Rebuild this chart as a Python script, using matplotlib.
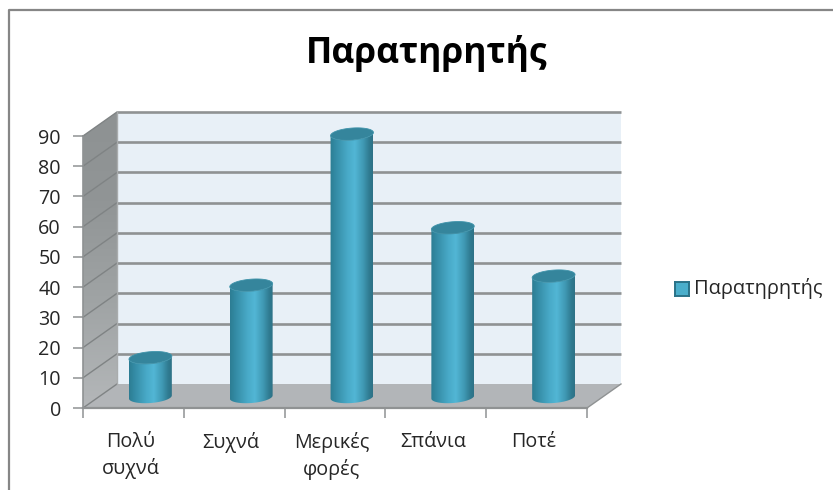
import numpy as np
import matplotlib
matplotlib.use("Agg")
import matplotlib.pyplot as plt
from matplotlib.patches import Polygon
from matplotlib.colors import LinearSegmentedColormap

categories = ["Πολύ\nσυχνά", "Συχνά", "Μερικές\nφορές", "Σπάνια", "Ποτέ"]
values = [13, 37, 87, 56, 40]
series_name = "Παρατηρητής"
yticks = list(range(0, 100, 10))

W, H = 833, 490
plt.rcParams['font.family'] = ['Open Sans', 'DejaVu Sans']
fig = plt.figure(figsize=(W / 100, H / 100), dpi=100)
fig.patch.set_facecolor('white')

# frame of the pasted chart
fig.add_artist(plt.Line2D([8.5 / W, 8.5 / W, 1], [0, 1 - 10.5 / H, 1 - 10.5 / H], color='#868686', lw=1.6))

L, R, T, B = 83, 587, 136, 408
ax = fig.add_axes([L / W, 1 - B / H, (R - L) / W, (B - T) / H])
ax.patch.set_visible(False)
for s in ax.spines.values():
    s.set_visible(False)

ux = 5 / (R - L)      # data units per pixel
uy = 90 / (B - T)
dx, dy = 34 * ux, 24 * uy
grid = '#8f9293'

# walls
ax.add_patch(Polygon([(dx, dy), (5 + dx, dy), (5 + dx, 90 + dy), (dx, 90 + dy)], fc='#e8f0f7', ec='none', clip_on=False, zorder=1))
cm_side = LinearSegmentedColormap.from_list('side', [(0, '#b4b7b9'), (0.35, '#a0a4a5'), (0.7, '#919596'), (1, '#8e9293')])
g = np.linspace(0, 1, 128).reshape(-1, 1)
im = ax.imshow(g, extent=(0, dx, 0, 90 + dy), origin='lower', cmap=cm_side, aspect='auto', zorder=1)
side = Polygon([(0, 0), (dx, dy), (dx, 90 + dy), (0, 90)], fc='none', ec='none', transform=ax.transData)
ax.add_patch(side)
im.set_clip_box(fig.bbox)
im.set_clip_path(side)
ax.add_patch(Polygon([(0, 0), (5, 0), (5 + dx, dy), (dx, dy)], fc='#b2b5b8', ec='none', clip_on=False, zorder=1))

# gridlines along walls
for t in yticks:
    if t > 0:
        ax.plot([dx, 5 + dx], [t + dy, t + dy], color=grid, lw=1.9, clip_on=False, zorder=2, solid_capstyle='butt')
    ax.plot([0, dx], [t, t + dy], color='#7f8384', lw=1.0, clip_on=False, zorder=2)
ax.plot([5, 5 + dx], [0, dy], color=grid, lw=1.0, clip_on=False, zorder=2)
ax.plot([dx, dx], [dy, 90 + dy], color='#a9acad', lw=1.0, clip_on=False, zorder=2)

# cylinders
cm_bar = LinearSegmentedColormap.from_list('bar', [
    (0, '#2d7d93'), (0.1, '#3288a1'), (0.4, '#48a9c7'), (0.58, '#52b6d5'), (0.78, '#3f98b3'), (0.92, '#2f7a90'), (1, '#2e7287')])
rx, ry, tilt = 21.5, 6.0, np.radians(4.5)
bw = 21.5 * ux
th = np.linspace(0, 2 * np.pi, 90)


def ell(cx, cy, part=None):
    t = th if part is None else part
    ex = rx * np.cos(t) * np.cos(tilt) - ry * np.sin(t) * np.sin(tilt)
    ey = rx * np.cos(t) * np.sin(tilt) + ry * np.sin(t) * np.cos(tilt)
    return np.column_stack([cx + ex * ux, cy + ey * uy])


for i, v in enumerate(values):
    cx = i + 0.5 + dx / 2
    base = 11 * uy
    lower = np.linspace(np.pi, 2 * np.pi, 40)
    lo = ell(cx, base, lower)
    hi = ell(cx, base + v, lower)[::-1]
    body = Polygon(np.vstack([lo, hi]), fc='none', ec='none', transform=ax.transData)
    ax.add_patch(body)
    img = ax.imshow(np.linspace(0, 1, 128).reshape(1, -1), extent=(cx - bw, cx + bw, 0, 120),
                    cmap=cm_bar, aspect='auto', zorder=3)
    img.set_clip_box(fig.bbox)
    img.set_clip_path(body)
    ax.add_patch(Polygon(ell(cx, base + v), fc='#35859c', ec='#3f93aa', lw=0.6, clip_on=False, zorder=4))
ax.set_xlim(0, 5)
ax.set_ylim(0, 90)

# axes lines and ticks
ax.plot([0, 5], [0, 0], color=grid, lw=1.6, clip_on=False, zorder=5)
ax.plot([0, 0], [0, 90], color=grid, lw=1.2, clip_on=False, zorder=5)
ax.set_xticks(range(6))
ax.set_xticklabels([])
ax.tick_params(axis='x', which='major', length=7, width=1.1, color=grid)
for i, c in enumerate(categories):
    ax.annotate(c, (i + 0.5, 0), xytext=(-3, -24), xycoords='data', textcoords='offset pixels',
                ha='center', va='top', fontsize=14.2, color='#262626', linespacing=1.38, annotation_clip=False)
ax.set_yticks(yticks)
ax.tick_params(axis='y', length=7, width=1.1, color=grid, labelsize=14.2, labelcolor='#262626', pad=9)

fig.text(427 / W, 1 - 54 / H, series_name, ha='center', va='center', fontsize=25.5, fontweight='bold', color='black')

# legend
lax = fig.add_axes([675 / W, 1 - 296 / H, 14 / W, 14 / H])
lax.set_xticks([]); lax.set_yticks([])
lax.set_facecolor('#4aaecb')
for s in lax.spines.values():
    s.set_color('#2a7288'); s.set_linewidth(1.4)
fig.text(694 / W, 1 - 288.5 / H, series_name, ha='left', va='center', fontsize=14.4, color='#262626')

fig.savefig('out.png', dpi=100)
